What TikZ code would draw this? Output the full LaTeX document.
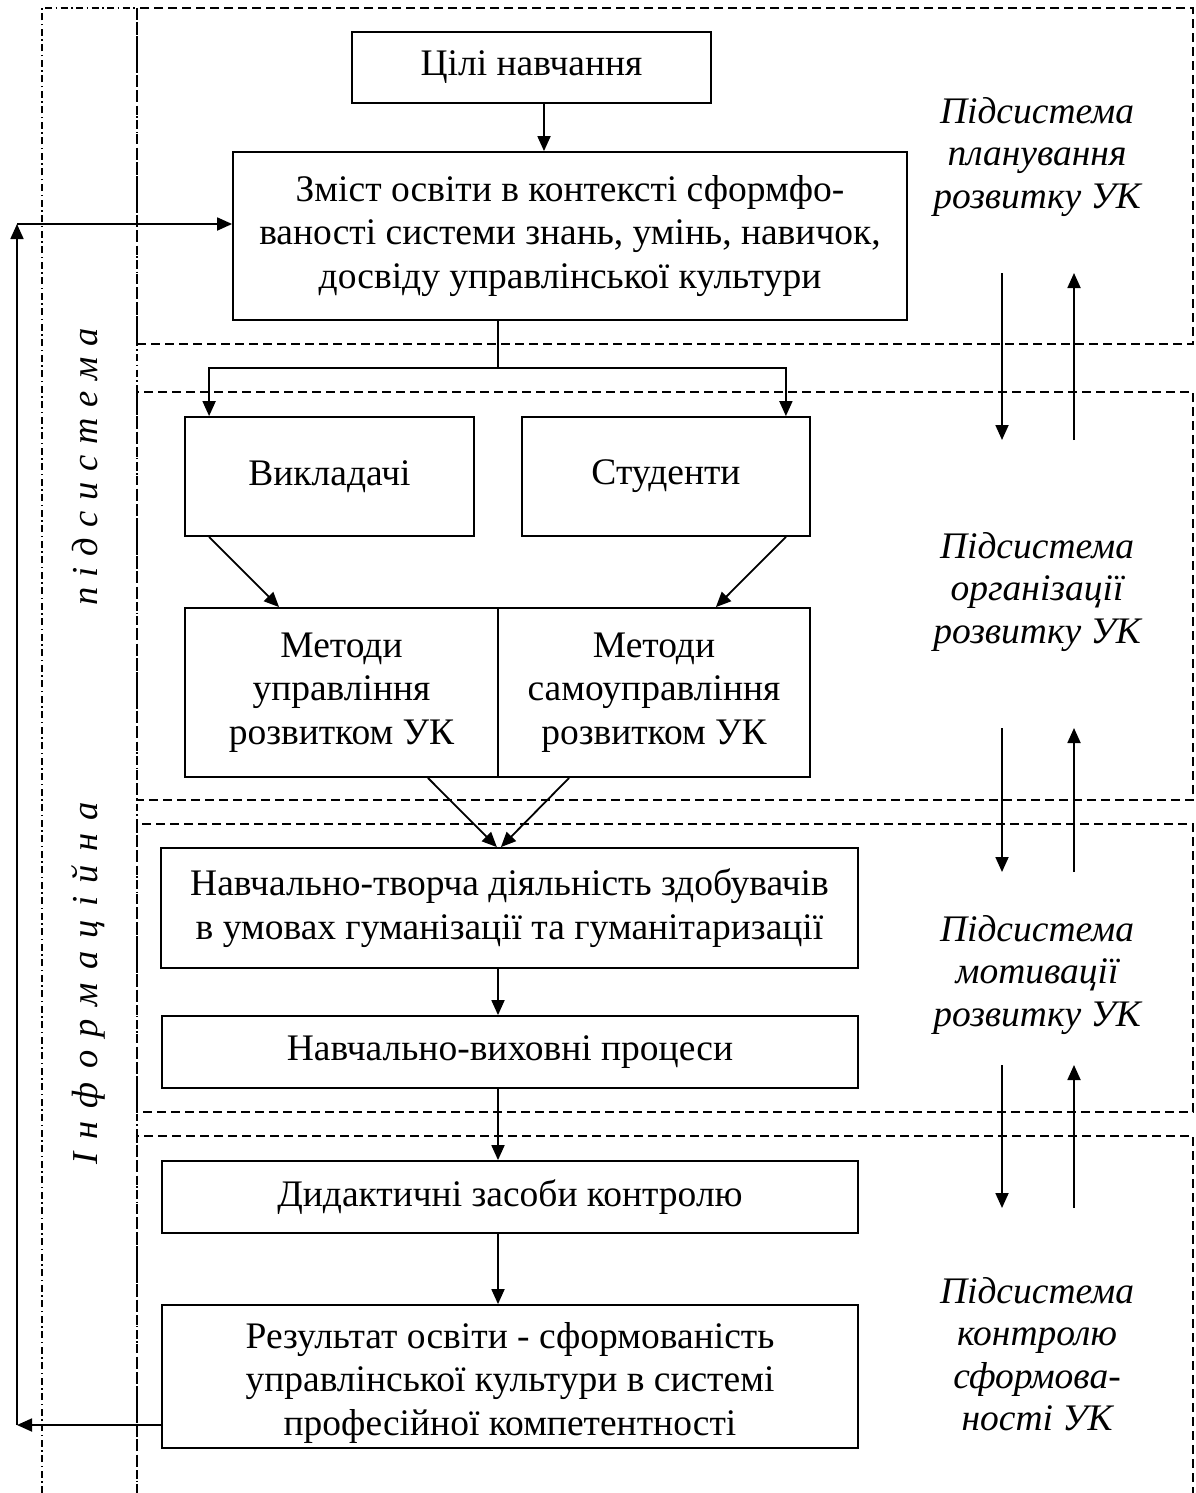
\documentclass[tikz,border=0pt]{standalone}
\usepackage{fontspec}
\setmainfont{Liberation Serif}
\usetikzlibrary{arrows.meta}
\newcommand{\widesp}[1]{\spaceskip=#1 plus 0pt minus 0pt\relax}
\begin{document}
\begin{tikzpicture}[x=1pt,y=-1pt]
\tikzset{
 box/.style={draw, line width=1.8pt, inner sep=0pt, align=center, font=\fontsize{37.5}{43.5}\selectfont},
 arr/.style={line width=1.8pt, -{Triangle[length=15pt,width=13pt]}},
 plain/.style={line width=1.8pt},
 zone/.style={line width=1.8pt, dash pattern=on 9pt off 5pt},
 dd/.style={line width=1.6pt, dash pattern=on 7pt off 3.5pt on 1.5pt off 3.5pt},
 lab/.style={font=\fontsize{37.5}{42.5}\selectfont\itshape, align=center, inner sep=0pt},
 vlab/.style={font=\fontsize{36.5}{42.5}\selectfont\itshape, inner sep=0pt, rotate=90, anchor=base},
}
\useasboundingbox (0,0) rectangle (1195,1493);
% zones
\draw[dd] (42,1493) -- (42,8) -- (137,8);
\draw[dd] (137,13) -- (137,1493);
\draw[zone] (137,8) rectangle (1193,344);
\draw[zone] (137,392) rectangle (1193,800);
\draw[zone] (137,824) rectangle (1193,1112);
\draw[zone] (137,1493) -- (137,1136) -- (1193,1136) -- (1193,1493);
% vertical label
\node[vlab] (inf) at (97,983.5) {\widesp{13.2pt}І н ф о р м а ц і й н а};
\node[vlab] (pid) at (97,467) {\widesp{10.7pt}п і д с и с т е м а};
% boxes
\node[box, minimum width=359pt, minimum height=71pt] (goal) at (531.5,67.5) {Цілі навчання};
\node[box, minimum width=674pt, minimum height=168pt] (cont) at (570,236) {Зміст освіти в контексті сформфо-\\ваності системи знань, умінь, навичок,\\досвіду управлінської культури};
\node[box, minimum width=289pt, minimum height=119pt] (vykl) at (329.5,476.5) {Викладачі};
\node[box, minimum width=288pt, minimum height=119pt] (stud) at (666,476.5) {Студенти};
\node[box, minimum width=313pt, minimum height=169pt] (mleft) at (341.5,692.5) {Методи\\управління\\розвитком УК};
\node[box, minimum width=312pt, minimum height=169pt] (mright) at (654,692.5) {Методи\\самоуправління\\розвитком УК};
\node[box, minimum width=697pt, minimum height=120pt] (tvor) at (509.5,908) {Навчально-творча діяльність здобувачів\\в умовах гуманізації та гуманітаризації};
\node[box, minimum width=696pt, minimum height=72pt] (vykh) at (510,1052) {Навчально-виховні процеси};
\node[box, minimum width=696pt, minimum height=72pt] (dyd) at (510,1197) {Дидактичні засоби контролю};
\node[box, minimum width=696pt, minimum height=143pt] (res) at (510,1376.5) {\rule{0pt}{38pt}Результат освіти - сформованість\\управлінської культури в системі\\професійної компетентності};
% right labels
\node[lab] (l1) at (1037,157) {Підсистема\\планування\\розвитку УК};
\node[lab] (l2) at (1037,592) {Підсистема\\організації\\розвитку УК};
\node[lab] (l3) at (1037,975) {Підсистема\\мотивації\\розвитку УК};
\node[lab] (l4) at (1037,1354) {Підсистема\\контролю\\сформова-\\ності УК};
% connectors
\coordinate (gx) at (544,0);
\draw[arr] (goal.south -| gx) -- (cont.north -| gx);
\coordinate (split) at (498,368);
\draw[plain] (cont.south -| split) -- (split);
\draw[arr] (split) -| ([xshift=25pt]vykl.north west);
\draw[arr] (split) -| ([xshift=-25pt]stud.north east);
\draw[arr] ([xshift=25pt]vykl.south west) -- ([xshift=95pt]mleft.north west);
\draw[arr] ([xshift=-25pt]stud.south east) -- ([xshift=-95pt]mright.north east);
\draw[arr] ([xshift=-71pt]mleft.south east) -- ([xshift=-2pt]tvor.north -| mleft.east);
\draw[arr] ([xshift=72pt]mright.south west) -- ([xshift=2pt]tvor.north -| mleft.east);
\draw[arr] (tvor.south -| split) -- (vykh.north -| split);
\draw[arr] (vykh.south -| split) -- (dyd.north -| split);
\draw[arr] (dyd.south -| split) -- (res.north -| split);
% feedback
\coordinate (fbB) at (17,1425);
\coordinate (fbT) at (17,224);
\draw[arr] (res.west |- fbB) -- (fbB);
\draw[arr] (fbB) -- (fbT);
\draw[arr] (fbT) -- (cont.west |- fbT);
% inter-subsystem arrows
\coordinate (d1a) at (1002,273); \coordinate (d1b) at (1002,440);
\coordinate (u1a) at (1074,440); \coordinate (u1b) at (1074,273);
\coordinate (d2a) at (1002,728); \coordinate (d2b) at (1002,872);
\coordinate (u2a) at (1074,872); \coordinate (u2b) at (1074,728);
\coordinate (d3a) at (1002,1065); \coordinate (d3b) at (1002,1208);
\coordinate (u3a) at (1074,1208); \coordinate (u3b) at (1074,1065);
\draw[arr] (d1a) -- (d1b); \draw[arr] (u1a) -- (u1b);
\draw[arr] (d2a) -- (d2b); \draw[arr] (u2a) -- (u2b);
\draw[arr] (d3a) -- (d3b); \draw[arr] (u3a) -- (u3b);
\end{tikzpicture}
\end{document}
